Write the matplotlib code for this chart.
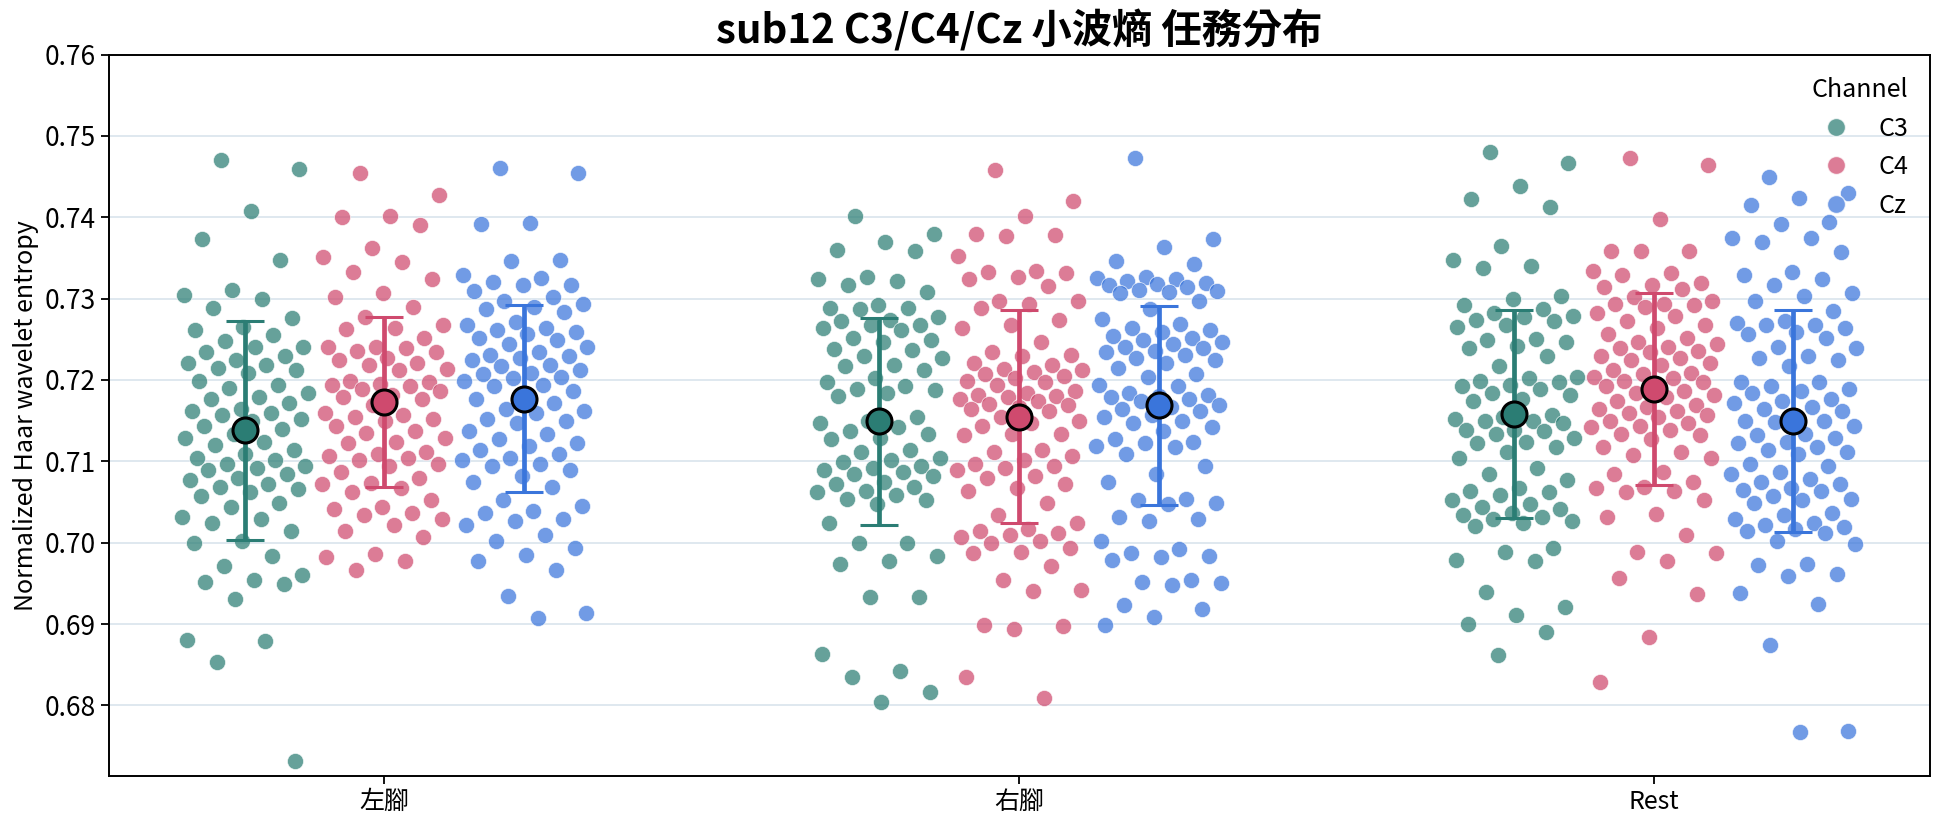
import numpy as np
import matplotlib
matplotlib.use("Agg")
import matplotlib.pyplot as plt
from matplotlib.lines import Line2D

# 各條件 / 通道的小波熵
tasks = ["左腳", "右腳", "Rest"]
channels = ["C3", "C4", "Cz"]

left_c3 = [0.7470, 0.7459, 0.7408, 0.7373, 0.7347, 0.7310, 0.7305, 0.7300, 0.7288, 0.7276, 0.7265, 0.7262,
           0.7255, 0.7248, 0.7241, 0.7241, 0.7235, 0.7229, 0.7225, 0.7221, 0.7219, 0.7215, 0.7212, 0.7208,
           0.7199, 0.7194, 0.7190, 0.7184, 0.7179, 0.7177, 0.7172, 0.7164, 0.7162, 0.7160, 0.7157, 0.7152,
           0.7149, 0.7144, 0.7140, 0.7134, 0.7129, 0.7124, 0.7120, 0.7114, 0.7109, 0.7104, 0.7102, 0.7097,
           0.7094, 0.7092, 0.7089, 0.7084, 0.7080, 0.7077, 0.7072, 0.7069, 0.7066, 0.7062, 0.7057, 0.7049,
           0.7044, 0.7032, 0.7029, 0.7024, 0.7014, 0.7002, 0.6999, 0.6984, 0.6971, 0.6960, 0.6954, 0.6952,
           0.6949, 0.6931, 0.6880, 0.6879, 0.6853, 0.6732]
left_c4 = [0.7454, 0.7428, 0.7401, 0.7400, 0.7390, 0.7362, 0.7351, 0.7345, 0.7333, 0.7324, 0.7307, 0.7302,
           0.7290, 0.7277, 0.7267, 0.7264, 0.7263, 0.7252, 0.7241, 0.7241, 0.7239, 0.7236, 0.7234, 0.7227,
           0.7224, 0.7221, 0.7219, 0.7214, 0.7212, 0.7199, 0.7197, 0.7195, 0.7194, 0.7192, 0.7189, 0.7187,
           0.7182, 0.7179, 0.7177, 0.7169, 0.7159, 0.7157, 0.7155, 0.7152, 0.7149, 0.7144, 0.7137, 0.7135,
           0.7129, 0.7124, 0.7122, 0.7112, 0.7109, 0.7107, 0.7104, 0.7102, 0.7097, 0.7094, 0.7087, 0.7079,
           0.7073, 0.7072, 0.7067, 0.7062, 0.7052, 0.7044, 0.7042, 0.7037, 0.7034, 0.7029, 0.7022, 0.7014,
           0.7007, 0.6986, 0.6982, 0.6977, 0.6967]
left_cz = [0.7460, 0.7454, 0.7393, 0.7392, 0.7347, 0.7346, 0.7329, 0.7325, 0.7320, 0.7317, 0.7317, 0.7309,
           0.7302, 0.7297, 0.7294, 0.7290, 0.7287, 0.7284, 0.7271, 0.7267, 0.7264, 0.7262, 0.7259, 0.7257,
           0.7252, 0.7249, 0.7244, 0.7241, 0.7234, 0.7231, 0.7230, 0.7227, 0.7224, 0.7219, 0.7217, 0.7212,
           0.7209, 0.7207, 0.7204, 0.7202, 0.7199, 0.7194, 0.7192, 0.7187, 0.7184, 0.7177, 0.7172, 0.7164,
           0.7162, 0.7159, 0.7152, 0.7149, 0.7147, 0.7137, 0.7134, 0.7128, 0.7122, 0.7119, 0.7114, 0.7109,
           0.7104, 0.7102, 0.7097, 0.7094, 0.7089, 0.7082, 0.7074, 0.7069, 0.7052, 0.7045, 0.7039, 0.7037,
           0.7029, 0.7027, 0.7022, 0.7009, 0.7002, 0.6994, 0.6985, 0.6977, 0.6967, 0.6934, 0.6914, 0.6908]

right_c3 = [0.7402, 0.7380, 0.7370, 0.7360, 0.7358, 0.7327, 0.7324, 0.7322, 0.7317, 0.7308, 0.7292, 0.7289,
            0.7288, 0.7287, 0.7277, 0.7274, 0.7272, 0.7268, 0.7267, 0.7264, 0.7262, 0.7252, 0.7249, 0.7247,
            0.7238, 0.7237, 0.7229, 0.7227, 0.7219, 0.7217, 0.7212, 0.7202, 0.7197, 0.7192, 0.7189, 0.7188,
            0.7184, 0.7180, 0.7154, 0.7149, 0.7147, 0.7142, 0.7137, 0.7134, 0.7129, 0.7127, 0.7114, 0.7112,
            0.7104, 0.7102, 0.7099, 0.7094, 0.7092, 0.7089, 0.7087, 0.7084, 0.7082, 0.7074, 0.7072, 0.7069,
            0.7064, 0.7062, 0.7059, 0.7054, 0.7052, 0.7047, 0.7024, 0.6999, 0.6999, 0.6984, 0.6977, 0.6974,
            0.6933, 0.6933, 0.6863, 0.6842, 0.6835, 0.6817, 0.6804]
right_c4 = [0.7458, 0.7420, 0.7402, 0.7380, 0.7378, 0.7377, 0.7353, 0.7334, 0.7333, 0.7332, 0.7327, 0.7324,
            0.7315, 0.7297, 0.7297, 0.7294, 0.7288, 0.7274, 0.7267, 0.7264, 0.7247, 0.7234, 0.7231, 0.7229,
            0.7221, 0.7219, 0.7214, 0.7212, 0.7210, 0.7207, 0.7205, 0.7202, 0.7199, 0.7197, 0.7194, 0.7187,
            0.7184, 0.7182, 0.7180, 0.7179, 0.7177, 0.7174, 0.7170, 0.7169, 0.7167, 0.7164, 0.7162, 0.7154,
            0.7149, 0.7147, 0.7144, 0.7134, 0.7133, 0.7132, 0.7114, 0.7112, 0.7107, 0.7102, 0.7097, 0.7094,
            0.7092, 0.7089, 0.7082, 0.7079, 0.7072, 0.7067, 0.7064, 0.7049, 0.7034, 0.7024, 0.7017, 0.7014,
            0.7012, 0.7009, 0.7007, 0.7002, 0.6999, 0.6994, 0.6989, 0.6987, 0.6971, 0.6954, 0.6942, 0.6941,
            0.6899, 0.6897, 0.6894, 0.6835, 0.6809]
right_cz = [0.7473, 0.7373, 0.7364, 0.7346, 0.7343, 0.7327, 0.7325, 0.7324, 0.7322, 0.7319, 0.7318, 0.7317,
            0.7314, 0.7310, 0.7309, 0.7308, 0.7307, 0.7297, 0.7287, 0.7275, 0.7269, 0.7264, 0.7262, 0.7259,
            0.7254, 0.7252, 0.7249, 0.7247, 0.7244, 0.7241, 0.7239, 0.7236, 0.7234, 0.7231, 0.7227, 0.7224,
            0.7221, 0.7215, 0.7207, 0.7204, 0.7194, 0.7192, 0.7184, 0.7182, 0.7180, 0.7179, 0.7177, 0.7174,
            0.7169, 0.7167, 0.7164, 0.7162, 0.7157, 0.7154, 0.7149, 0.7147, 0.7142, 0.7137, 0.7127, 0.7124,
            0.7122, 0.7119, 0.7117, 0.7109, 0.7094, 0.7085, 0.7074, 0.7054, 0.7052, 0.7049, 0.7047, 0.7032,
            0.7029, 0.7027, 0.7002, 0.6992, 0.6987, 0.6984, 0.6982, 0.6979, 0.6954, 0.6952, 0.6950, 0.6948,
            0.6923, 0.6919, 0.6909, 0.6899]

rest_c3 = [0.7480, 0.7467, 0.7439, 0.7422, 0.7413, 0.7365, 0.7347, 0.7340, 0.7338, 0.7303, 0.7299, 0.7292,
           0.7287, 0.7282, 0.7279, 0.7277, 0.7274, 0.7272, 0.7268, 0.7265, 0.7250, 0.7249, 0.7247, 0.7242,
           0.7239, 0.7229, 0.7217, 0.7204, 0.7202, 0.7199, 0.7197, 0.7194, 0.7192, 0.7189, 0.7184, 0.7182,
           0.7177, 0.7174, 0.7157, 0.7154, 0.7152, 0.7150, 0.7149, 0.7147, 0.7139, 0.7138, 0.7137, 0.7134,
           0.7129, 0.7124, 0.7122, 0.7117, 0.7112, 0.7104, 0.7092, 0.7085, 0.7077, 0.7067, 0.7064, 0.7062,
           0.7059, 0.7052, 0.7047, 0.7044, 0.7042, 0.7037, 0.7034, 0.7032, 0.7029, 0.7027, 0.7024, 0.7020,
           0.6994, 0.6989, 0.6979, 0.6977, 0.6939, 0.6921, 0.6911, 0.6900, 0.6890, 0.6862]
rest_c4 = [0.7473, 0.7464, 0.7398, 0.7359, 0.7358, 0.7359, 0.7334, 0.7332, 0.7329, 0.7319, 0.7317, 0.7314,
           0.7312, 0.7302, 0.7297, 0.7294, 0.7293, 0.7292, 0.7290, 0.7282, 0.7279, 0.7272, 0.7267, 0.7264,
           0.7257, 0.7252, 0.7247, 0.7244, 0.7241, 0.7239, 0.7236, 0.7234, 0.7229, 0.7227, 0.7224, 0.7221,
           0.7219, 0.7212, 0.7209, 0.7207, 0.7204, 0.7202, 0.7199, 0.7197, 0.7194, 0.7192, 0.7187, 0.7184,
           0.7182, 0.7179, 0.7174, 0.7169, 0.7167, 0.7164, 0.7162, 0.7159, 0.7157, 0.7154, 0.7149, 0.7147,
           0.7144, 0.7142, 0.7138, 0.7134, 0.7132, 0.7127, 0.7117, 0.7112, 0.7108, 0.7104, 0.7087, 0.7085,
           0.7074, 0.7069, 0.7067, 0.7064, 0.7062, 0.7052, 0.7035, 0.7032, 0.7009, 0.6989, 0.6987, 0.6977,
           0.6957, 0.6937, 0.6884, 0.6829]
rest_cz = [0.7450, 0.7430, 0.7424, 0.7415, 0.7394, 0.7392, 0.7375, 0.7374, 0.7369, 0.7357, 0.7333, 0.7329,
           0.7324, 0.7317, 0.7307, 0.7303, 0.7297, 0.7285, 0.7272, 0.7270, 0.7268, 0.7267, 0.7264, 0.7259,
           0.7257, 0.7252, 0.7241, 0.7239, 0.7229, 0.7227, 0.7224, 0.7217, 0.7198, 0.7197, 0.7192, 0.7189,
           0.7187, 0.7184, 0.7177, 0.7174, 0.7172, 0.7167, 0.7164, 0.7162, 0.7154, 0.7150, 0.7149, 0.7148,
           0.7144, 0.7134, 0.7132, 0.7129, 0.7124, 0.7123, 0.7117, 0.7114, 0.7112, 0.7109, 0.7097, 0.7094,
           0.7087, 0.7084, 0.7078, 0.7075, 0.7072, 0.7067, 0.7065, 0.7063, 0.7057, 0.7054, 0.7052, 0.7049,
           0.7037, 0.7034, 0.7029, 0.7024, 0.7022, 0.7019, 0.7017, 0.7014, 0.7012, 0.7002, 0.6998, 0.6974,
           0.6972, 0.6962, 0.6959, 0.6938, 0.6924, 0.6874, 0.6769, 0.6767]

# 平均值與標準差 (圖上讀取)
mean_c3 = [0.7138, 0.7149, 0.7158]
mean_c4 = [0.7173, 0.7155, 0.7189]
mean_cz = [0.7177, 0.7169, 0.7150]
sd_c3 = [0.0135, 0.01275, 0.0128]
sd_c4 = [0.01045, 0.0131, 0.01175]
sd_cz = [0.0115, 0.01225, 0.01365]

data = {
    "C3": [left_c3, right_c3, rest_c3],
    "C4": [left_c4, right_c4, rest_c4],
    "Cz": [left_cz, right_cz, rest_cz],
}
means = {"C3": mean_c3, "C4": mean_c4, "Cz": mean_cz}
sds = {"C3": sd_c3, "C4": sd_c4, "Cz": sd_cz}
colors = {"C3": "#2b7d74", "C4": "#cf4a6e", "Cz": "#3a75db"}
offsets = {"C3": -0.22, "C4": 0.0, "Cz": 0.22}

plt.rcParams['font.family'] = ['Noto Sans CJK TC', 'DejaVu Sans']

fig = plt.figure(figsize=(19.44, 8.27), dpi=100)
ax = fig.add_axes([0.056, 0.0615, 0.937, 0.8725])

for ch in channels:
    for i, vals in enumerate(data[ch]):
        vals = np.array(vals)
        n = len(vals)
        # 準隨機 jitter
        jit = ((np.arange(n) * 0.6180339887 + 0.31) % 1.0 - 0.5) * 0.2
        ax.scatter(i + offsets[ch] + jit, vals, s=135, color=colors[ch], alpha=0.72,
                   edgecolor="white", linewidth=0.6, zorder=2)

for ch in channels:
    xs = np.arange(len(tasks)) + offsets[ch]
    ax.errorbar(xs, means[ch], yerr=sds[ch], fmt="none", ecolor=colors[ch],
                elinewidth=3.4, capsize=14, capthick=2.2, zorder=3)
    ax.plot(xs, means[ch], "o", markersize=18, markerfacecolor=colors[ch],
            markeredgecolor="black", markeredgewidth=2.2, linestyle="none", zorder=4)

ax.set_xlim(-0.434, 2.436)
ax.set_ylim(0.6713, 0.76)
ax.set_xticks(range(len(tasks)))
ax.set_xticklabels(tasks, fontsize=18)
yt = np.arange(0.68, 0.7601, 0.01)
ax.set_yticks(yt)
ax.set_yticklabels([f"{v:.2f}" for v in yt], fontsize=19)
ax.tick_params(axis="both", length=6, width=1.3, color="black")
ax.yaxis.grid(True, color="#dce6ee", linewidth=1.3, zorder=0)
ax.set_axisbelow(True)
for sp in ax.spines.values():
    sp.set_linewidth(1.4)
    sp.set_color("black")
ax.set_ylabel("Normalized Haar wavelet entropy", fontsize=18)
ax.set_title("sub12 C3/C4/Cz 小波熵 任務分布", fontsize=29, fontweight="bold", pad=8)

handles = [Line2D([0], [0], marker="o", linestyle="none", markersize=13,
                  markerfacecolor=colors[ch], markeredgecolor="white", alpha=0.72) for ch in channels]
leg = ax.legend(handles, channels, title="Channel", loc="upper right", frameon=False,
                fontsize=18, title_fontsize=18, handletextpad=0.7, labelspacing=0.5,
                borderaxespad=0.5)
leg._legend_box.align = "right"

fig.savefig("out.png", dpi=100)
